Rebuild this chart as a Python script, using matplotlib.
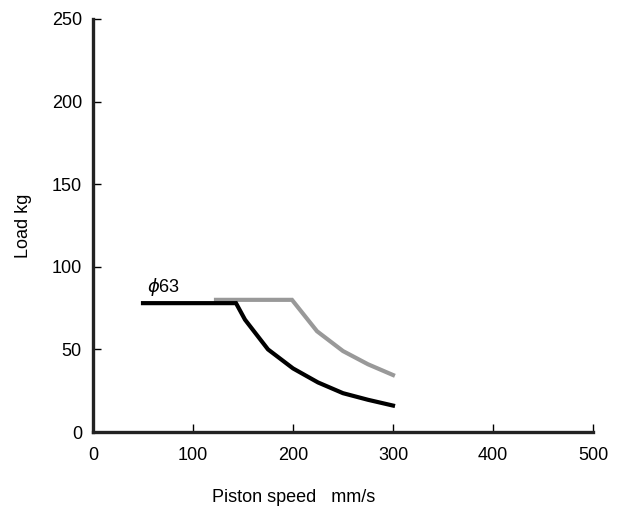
import matplotlib.pyplot as plt

plt.rcParams['font.family'] = ['Liberation Sans', 'DejaVu Sans']

# phi63 curves
black_x = [50, 143, 152, 175, 200, 225, 250, 275, 300]
black_y = [78, 78, 68, 50, 38.5, 30, 23.5, 19.5, 16]
gray_x = [123, 199, 224, 250, 275, 300]
gray_y = [80, 80, 61, 49, 41, 34.5]

fig = plt.figure(figsize=(6.18, 5.08), dpi=100)
ax = fig.add_axes([0.1505, 0.1496, 0.809, 0.8130])

ax.plot(gray_x, gray_y, color='#999999', lw=3, solid_joinstyle='miter')
ax.plot(black_x, black_y, color='black', lw=3, solid_joinstyle='miter')
ax.text(54, 84.5, r'$\phi$63', fontsize=13)

ax.set_xlim(0, 500)
ax.set_ylim(0, 250)
ax.set_xticks([0, 100, 200, 300, 400, 500])
ax.set_yticks([0, 50, 100, 150, 200, 250])
ax.spines['top'].set_visible(False)
ax.spines['right'].set_visible(False)
for s in ['left', 'bottom']:
    ax.spines[s].set_linewidth(2.4)
    ax.spines[s].set_color('#222222')
ax.tick_params(direction='in', length=6, width=1, labelsize=13)
ax.tick_params(axis='x', pad=11)
ax.tick_params(axis='y', pad=8)
ax.set_xlabel('Piston speed   mm/s', fontsize=13, va='center')
ax.xaxis.set_label_coords(0.402, -0.158)
ax.set_ylabel('Load kg', fontsize=13, va='center')
ax.yaxis.set_label_coords(-0.14, 0.5)

fig.savefig('out.png', dpi=100)
